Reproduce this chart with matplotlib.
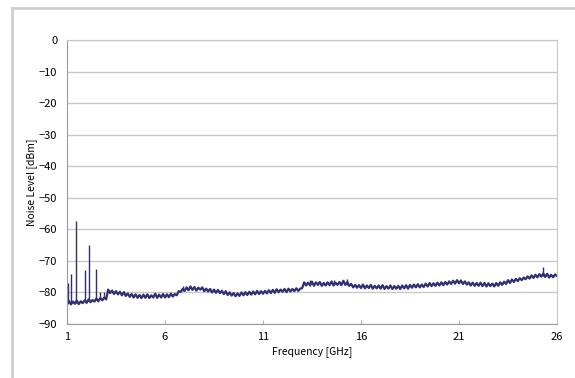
import numpy as np
import matplotlib
matplotlib.use('Agg')
import matplotlib.pyplot as plt
from matplotlib.lines import Line2D

plt.rcParams['font.family'] = ['Noto Sans CJK JP', 'DejaVu Sans']

# 周波数 [GHz]，0.1 GHz 间隔
freq = np.round(np.arange(1.0, 26.05, 0.1), 1)

# 噪声电平 [dBm]，从图上逐点读取
level = [
    -83.9, -82.7, -83.8, -82.9, -83.6, -82.6, -83.7, -82.8, -83.4, -82.5,
    -83.3, -82.2, -83.1, -82.4, -82.9, -81.9, -82.8, -81.8, -82.5, -81.6,
    -82.2, -79.1, -80.2, -79.4, -80.5, -79.6, -80.6, -79.8, -80.9, -79.9,
    -81.1, -80.3, -81.4, -80.5, -81.6, -80.6, -81.7, -80.8, -81.8, -80.7,
    -81.7, -80.6, -81.8, -80.9, -81.6, -80.4, -81.7, -80.7, -81.6, -80.5,
    -81.6, -80.6, -81.5, -80.4, -81.3, -80.5, -80.9, -79.6, -79.8, -78.9,
    -79.5, -78.4, -79.3, -78.1, -79.2, -78.3, -79.4, -78.5, -79.1, -78.4,
    -79.6, -78.8, -79.7, -78.9, -80.0, -79.1, -80.1, -79.2, -80.2, -79.5,
    -80.5, -79.6, -80.8, -80.0, -81.0, -80.2, -81.2, -80.3, -81.1, -80.0,
    -80.9, -79.9, -80.8, -79.8, -80.7, -79.7, -80.6, -79.5, -80.5, -79.6,
    -80.4, -79.5, -80.3, -79.3, -80.2, -79.2, -80.1, -79.0, -79.9, -79.1,
    -79.8, -78.9, -79.9, -78.8, -79.7, -78.9, -79.6, -78.7, -79.5, -78.8,
    -78.6, -76.8, -77.8, -76.9, -77.7, -76.6, -77.9, -76.8, -77.6, -76.7,
    -77.9, -77.0, -77.8, -76.8, -77.7, -76.5, -77.8, -76.9, -77.6, -76.7,
    -77.7, -76.3, -77.6, -76.7, -77.9, -77.3, -78.4, -77.6, -78.5, -77.7,
    -78.6, -77.5, -78.7, -77.8, -78.6, -77.6, -78.8, -77.9, -78.7, -77.8,
    -78.8, -77.7, -78.9, -78.0, -78.8, -77.8, -78.9, -78.0, -78.8, -77.9,
    -78.9, -77.8, -78.7, -77.7, -78.8, -77.6, -78.5, -77.5, -78.4, -77.4,
    -78.4, -77.5, -78.3, -77.2, -78.1, -77.0, -78.0, -77.1, -77.9, -76.9,
    -77.8, -76.8, -77.7, -76.7, -77.5, -76.5, -77.3, -76.3, -77.2, -76.1,
    -77.1, -76.2, -77.3, -76.5, -77.5, -76.8, -77.8, -76.9, -77.9, -77.0,
    -77.9, -76.9, -78.0, -77.0, -78.1, -77.1, -78.0, -77.2, -78.1, -77.0,
    -77.9, -76.8, -77.6, -76.6, -77.3, -76.1, -77.0, -75.9, -76.7, -75.7,
    -76.4, -75.5, -76.1, -75.3, -75.8, -74.9, -75.6, -74.6, -75.4, -74.4,
    -75.2, -74.2, -75.0, -74.0, -75.1, -74.1, -75.3, -74.4, -75.2, -74.3,
    -74.8,
]

# 杂散尖峰
spike_freq = [1.07, 1.19, 1.48, 1.90, 2.14, 2.46, 2.70, 2.88, 6.90, 13.40, 14.60, 15.30, 25.30]
spike_base = [-83.5, -83.3, -83.2, -82.8, -82.6, -82.3, -82.0, -81.8, -79.5, -77.8, -77.6, -77.5, -74.8]
spike_peak = [-77.1, -74.1, -57.4, -72.9, -65.0, -72.7, -80.0, -79.8, -78.0, -76.0, -76.0, -75.8, -71.8]

x_ticks = [1, 6, 11, 16, 21, 26]
y_ticks = [0, -10, -20, -30, -40, -50, -60, -70, -80, -90]

line_color = '#2f2f72'
grid_color = '#c8c8c8'

fig = plt.figure(figsize=(5.75, 3.78), dpi=100)
ax = fig.add_axes([67 / 575, 1 - 324 / 378, 490 / 575, 284 / 378])

ax.plot(freq, level, color=line_color, linewidth=1.6, solid_joinstyle='round')
ax.vlines(spike_freq, spike_base, spike_peak, color=line_color, linewidth=1.0)

ax.set_xlim(1, 26)
ax.set_ylim(-90, 0)
ax.set_xticks(x_ticks)
ax.set_yticks(y_ticks)
ax.yaxis.grid(True, color=grid_color, linewidth=1)
ax.set_axisbelow(True)

ax.tick_params(axis='x', direction='in', length=3, color='#b0b0b0', labelsize=8, pad=6)
ax.tick_params(axis='y', length=0, labelsize=8, pad=7)

for side in ['left', 'bottom']:
    ax.spines[side].set_color('#9a9a9a')
for side in ['top', 'right']:
    ax.spines[side].set_color(grid_color)

ax.set_xlabel('Frequency [GHz]', fontsize=7.5, labelpad=3)
ax.set_ylabel('Noise Level [dBm]', fontsize=7.5, labelpad=1)

# 图表外框
fig.add_artist(Line2D([12 / 575, 1], [1 - 8 / 378] * 2, color='#cfcfcf', linewidth=2))
fig.add_artist(Line2D([12 / 575] * 2, [0, 1 - 8 / 378], color='#cfcfcf', linewidth=2))

fig.savefig('out.png', dpi=100)
